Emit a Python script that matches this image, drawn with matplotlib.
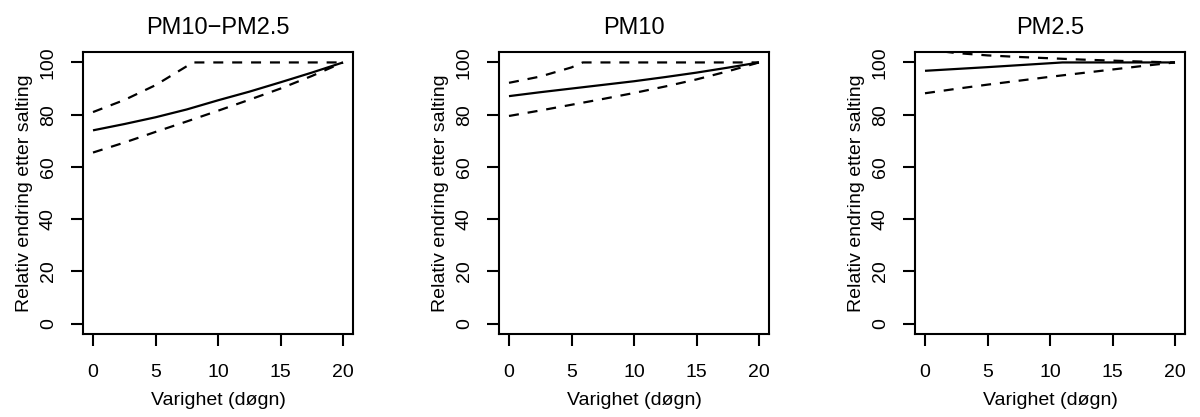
import matplotlib
matplotlib.use("Agg")
import matplotlib.pyplot as plt

plt.rcParams['font.family'] = ['Liberation Sans', 'DejaVu Sans']

# shared day grid for most curves
days = [0, 2.5, 5, 7.5, 10, 12.5, 15, 17.5, 20]

# PM10-PM2.5
coarse_est = [74.0, 76.4, 79.0, 82.0, 85.5, 88.8, 92.4, 96.1, 100.0]
coarse_low = [65.5, 69.3, 73.4, 77.4, 81.5, 85.7, 90.0, 94.8, 100.0]
coarse_up_days = [0, 2.5, 5, 8.0, 20]
coarse_up = [81.0, 85.6, 91.3, 100.0, 100.0]

# PM10
pm10_est = [87.1, 88.6, 90.0, 91.4, 92.8, 94.4, 96.1, 98.0, 100.0]
pm10_low = [79.5, 81.6, 83.8, 86.0, 88.3, 90.8, 93.5, 96.6, 100.0]
pm10_up_days = [0, 2.5, 5, 5.9, 20]
pm10_up = [92.2, 94.6, 98.1, 100.0, 100.0]

# PM2.5
pm25_est_days = [0, 5, 11, 20]
pm25_est = [96.8, 98.2, 100.0, 100.0]
pm25_low = [88.2, 89.9, 91.5, 93.0, 94.5, 95.9, 97.3, 98.7, 100.0]
pm25_up = [105.0, 103.6, 102.7, 102.1, 101.6, 101.1, 100.7, 100.3, 100.0]

titles = ['PM10\u2212PM2.5', 'PM10', 'PM2.5']
xticks = [0, 5, 10, 15, 20]
yticks = [0, 20, 40, 60, 80, 100]

panels = [
    ((days, coarse_est), (days, coarse_low), (coarse_up_days, coarse_up)),
    ((days, pm10_est), (days, pm10_low), (pm10_up_days, pm10_up)),
    ((pm25_est_days, pm25_est), (days, pm25_low), (days, pm25_up)),
]

fig = plt.figure(figsize=(12, 4.17), dpi=100)
lefts = [83 / 1200, 499 / 1200, 915 / 1200]

for left, title, (est, low, up) in zip(lefts, titles, panels):
    ax = fig.add_axes([left, 0.199, 0.225, 0.6763])
    ax.plot(est[0], est[1], color='black', lw=1.6, solid_capstyle='butt')
    for xs, ys in (low, up):
        ax.plot(xs, ys, color='black', lw=1.6, linestyle=(0, (4.5, 4)),
                dash_capstyle='butt')

    ax.set_xlim(-0.8, 20.8)
    ax.set_ylim(-4, 104)
    ax.set_xticks(xticks)
    ax.set_yticks(yticks)
    for s in ax.spines.values():
        s.set_linewidth(1.5)
    ax.tick_params(direction='out', length=8.8, width=1.5, pad=10,
                   labelsize=14)
    ax.tick_params(axis='x', pad=12.5)
    ax.tick_params(axis='y', labelrotation=90)
    for lab in ax.get_yticklabels():
        lab.set_verticalalignment('center')

    ax.set_title(title, fontsize=17, pad=13)
    ax.set_xlabel('Varighet (døgn)', fontsize=14, labelpad=8.5)
    ax.set_ylabel('Relativ endring etter salting', fontsize=14, labelpad=4.8)

fig.savefig('out.png', dpi=100)
